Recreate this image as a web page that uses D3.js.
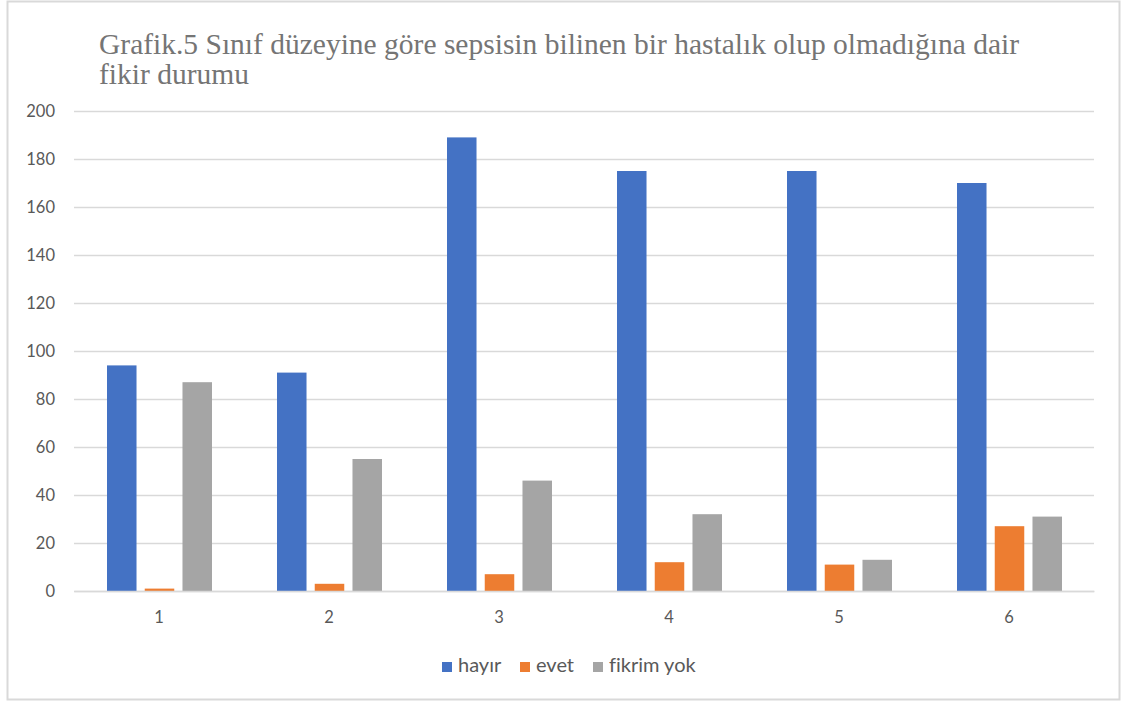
<!DOCTYPE html>
<html><head><meta charset="utf-8">
<script src="https://cdn.jsdelivr.net/npm/d3@7"></script>
<style>body{margin:0;background:#fff}svg{display:block}text{font-variant-ligatures:none;font-feature-settings:"liga" 0}</style>
</head><body>
<svg id="c" width="1130" height="702"></svg>
<script>
const categories = ["1","2","3","4","5","6"];
const seriesNames = ["hayır","evet","fikrim yok"];
const hayir = [94, 91, 189, 175, 175, 170];
const evet = [1, 3, 7, 12, 11, 27];
const fikrimYok = [87, 55, 46, 32, 13, 31];
const yTicks = [0,20,40,60,80,100,120,140,160,180,200];
const colors = ["#4472C4","#ED7D31","#A5A5A5"];
const titleLines = ["Grafik.5 Sınıf düzeyine göre sepsisin bilinen bir hastalık olup olmadığına dair","fikir durumu"];

(function(){
const values = [hayir, evet, fikrimYok];
const svg = d3.select("#c");
svg.append("rect").attr("x",7.5).attr("y",1.5).attr("width",1112).attr("height",698)
  .attr("fill","#fff").attr("stroke","#d9d9d9").attr("stroke-width",2);

const pLeft=74, pRight=1094, pTop=111, pBottom=591;
const x0 = d3.scaleBand().domain(categories).range([pLeft,pRight]).padding(0);
const x1 = d3.scaleBand().domain(seriesNames).range([33,138]).paddingInner(0.218).paddingOuter(0);
const y = d3.scaleLinear().domain([0,200]).range([pBottom,pTop]);

const tickFont = "Lato, 'Open Sans', sans-serif";
const yAxis = d3.axisLeft(y).tickValues(yTicks).tickSize(-(pRight-pLeft)).tickPadding(19);
const gy = svg.append("g").attr("transform",`translate(${pLeft},0)`).call(yAxis);
gy.select(".domain").remove();
gy.selectAll(".tick line").attr("stroke","#d9d9d9").attr("stroke-width",1.5);
gy.selectAll(".tick text").attr("fill","#595959").style("font-family",tickFont).style("font-size","16.5px");

const groups = svg.append("g").selectAll("g").data(categories).join("g")
  .attr("transform",d=>`translate(${x0(d)},0)`);
groups.selectAll("rect").data((d,i)=>seriesNames.map((s,j)=>({s, v:values[j][i], j})))
  .join("rect")
  .attr("x",d=>x1(d.s)).attr("width",x1.bandwidth())
  .attr("y",d=>y(d.v)).attr("height",d=>y(0)-y(d.v))
  .attr("fill",d=>colors[d.j]);

const xAxis = d3.axisBottom(x0).tickSize(0).tickPadding(20);
const gx = svg.append("g").attr("transform",`translate(0,${pBottom})`).call(xAxis);
gx.select(".domain").attr("stroke","#d9d9d9").attr("stroke-width",1.5);
gx.selectAll(".tick text").attr("fill","#595959").style("font-family",tickFont).style("font-size","16.5px");

svg.append("g").selectAll("text").data(titleLines).join("text")
  .attr("x",99).attr("y",(d,i)=>54+i*30)
  .attr("fill","#757575").style("font-family","'Liberation Serif', serif").style("font-size","29.5px")
  .text(d=>d);

const legX = [442, 520, 593];
const lg = svg.append("g").selectAll("g").data(seriesNames).join("g")
  .attr("transform",(d,i)=>`translate(${legX[i]},662)`);
lg.append("rect").attr("width",10).attr("height",10).attr("fill",(d,i)=>colors[i]);
lg.append("text").attr("x",16).attr("y",10).attr("fill","#595959")
  .style("font-family",tickFont).style("font-size","20px").text(d=>d);
})();
</script>
</body></html>
